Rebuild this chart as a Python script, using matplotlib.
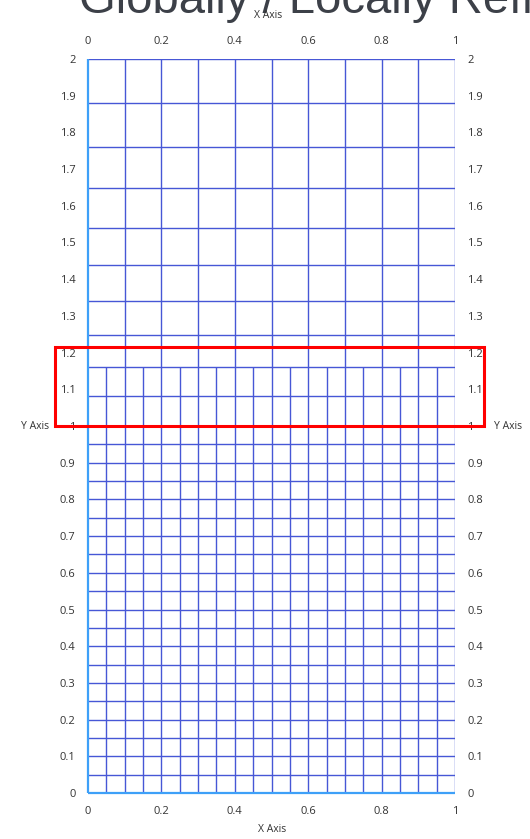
import matplotlib
matplotlib.use("Agg")
import matplotlib.pyplot as plt
from matplotlib.patches import Rectangle

# mesh lines
x_coarse = [0.0, 0.1, 0.2, 0.3, 0.4, 0.5, 0.6, 0.7, 0.8, 0.9, 1.0]
x_fine = [0.05, 0.15, 0.25, 0.35, 0.45, 0.55, 0.65, 0.75, 0.85, 0.95]
y_fine = [0.0, 0.05, 0.1, 0.15, 0.2, 0.25, 0.3, 0.35, 0.4, 0.45, 0.5,
          0.55, 0.6, 0.65, 0.7, 0.75, 0.8, 0.85, 0.9, 0.95, 1.0]
y_coarse = [1.082, 1.160, 1.247, 1.341, 1.439, 1.540, 1.649, 1.759, 1.881, 2.0]
fine_top = 1.160

x_ticks = [0, 0.2, 0.4, 0.6, 0.8, 1]
x_labels = ["0", "0.2", "0.4", "0.6", "0.8", "1"]
y_ticks = [0, 0.1, 0.2, 0.3, 0.4, 0.5, 0.6, 0.7, 0.8, 0.9, 1.0,
           1.1, 1.2, 1.3, 1.4, 1.5, 1.6, 1.7, 1.8, 1.9, 2.0]
y_labels = ["0", "0.1", "0.2", "0.3", "0.4", "0.5", "0.6", "0.7", "0.8", "0.9", "1",
            "1.1", "1.2", "1.3", "1.4", "1.5", "1.6", "1.7", "1.8", "1.9", "2"]

# zoom box
box_x = [-0.09, 1.079]
box_y = [1.0, 1.215]

plt.rcParams['font.family'] = ['Open Sans', 'DejaVu Sans']

mesh = '#4757d6'
edge = '#3ea0f8'
txt = '#333333'

fig = plt.figure(figsize=(5.30, 8.39), dpi=100)
ax = fig.add_axes([88/530, 1 - 793/839, 367/530, 734/839])
ax.set_xlim(0, 1)
ax.set_ylim(0, 2)
for s in ax.spines.values():
    s.set_visible(False)

# mesh
ax.vlines(x_coarse[1:], 0, 2, color=mesh, lw=1.0)
ax.vlines(x_fine, 0, fine_top, color=mesh, lw=1.0)
ax.hlines(y_fine[1:], 0, 1, color=mesh, lw=1.0)
ax.hlines(y_coarse, 0, 1, color=mesh, lw=1.0)
# left and bottom borders in light blue
ax.vlines(x_coarse[0], 0, 2, color=edge, lw=1.6, clip_on=False)
ax.hlines(y_fine[0], 0, 1, color=edge, lw=1.6, clip_on=False)

ax.add_patch(Rectangle((box_x[0], box_y[0]), box_x[1] - box_x[0], box_y[1] - box_y[0],
                       fill=False, edgecolor='red', lw=2.2, clip_on=False, zorder=5))

ax.set_xticks(x_ticks)
ax.set_xticklabels(x_labels)
ax.set_yticks(y_ticks)
ax.set_yticklabels(y_labels)
ax.tick_params(axis='x', length=0, labelsize=8, labelcolor=txt, pad=9,
               top=True, labeltop=True, bottom=True, labelbottom=True)
ax.tick_params(axis='y', length=0, labelsize=8, labelcolor=txt, pad=9,
               left=True, labelleft=True, right=True, labelright=True)

# axis titles
fig.text(272/530, 1 - 830/839, "X Axis", ha='center', va='center', fontsize=7.5, color=txt)
fig.text(268/530, 1 - 16/839, "X Axis", ha='center', va='center', fontsize=7.5, color=txt, zorder=6)
fig.text(35/530, 1 - 426/839, "Y Axis", ha='center', va='center', fontsize=7.5, color=txt)
fig.text(508/530, 1 - 426/839, "Y Axis", ha='center', va='center', fontsize=7.5, color=txt)

# big title cut at the top
fig.text(79/530, 1 - 13/839, "Globally / Locally Refined", ha='left', va='baseline',
         fontsize=34, color='#3c4048', family=['Liberation Sans', 'DejaVu Sans'], zorder=1)

fig.savefig("out.png", dpi=100)
